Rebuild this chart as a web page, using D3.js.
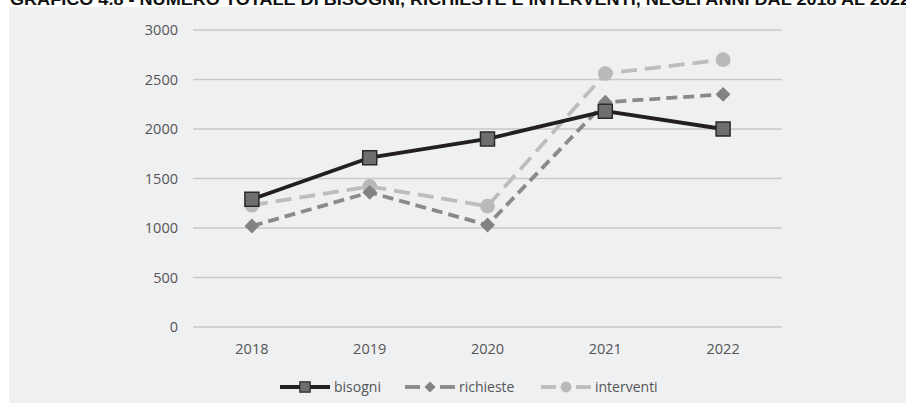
<!DOCTYPE html>
<html><head><meta charset="utf-8">
<script src="https://cdn.jsdelivr.net/npm/d3@7/dist/d3.min.js"></script>
<style>html,body{margin:0;padding:0;background:#fff;}svg{display:block;}</style>
</head><body>
<script>
const title = "GRAFICO 4.8 - NUMERO TOTALE DI BISOGNI, RICHIESTE E INTERVENTI, NEGLI ANNI DAL 2018 AL 2022";
const years = ["2018","2019","2020","2021","2022"];
const bisogni = [1290, 1710, 1900, 2180, 2000];
const richieste = [1020, 1360, 1030, 2270, 2350];
const interventi = [1230, 1420, 1220, 2560, 2700];
const yTicks = [0, 500, 1000, 1500, 2000, 2500, 3000];
const seriesNames = ["bisogni", "richieste", "interventi"];

const W = 906, H = 403;
const svg = d3.select("body").append("svg").attr("width", W).attr("height", H);
svg.append("rect").attr("x", 9).attr("y", 7).attr("width", W - 9).attr("height", H - 7).attr("fill", "#eff0f2");
svg.append("text").attr("x", 10).attr("y", 5).text(title)
  .attr("font-family", "Liberation Sans Narrow, Liberation Sans, sans-serif").attr("font-weight", "bold")
  .attr("font-size", 17).attr("fill", "#111").attr("textLength", 900).attr("lengthAdjust", "spacingAndGlyphs");

const x = d3.scaleBand().domain(years).range([193, 782]);
const y = d3.scaleLinear().domain([0, 3000]).range([327, 30]);
const font = "Open Sans, sans-serif";

// grid
svg.append("g").selectAll("line").data(yTicks).join("line")
  .attr("x1", 193).attr("x2", 782).attr("y1", d => y(d)).attr("y2", d => y(d))
  .attr("stroke", "#c9c9c9").attr("stroke-width", 1.5);

const yAxis = svg.append("g").attr("transform", "translate(193,0)")
  .call(d3.axisLeft(y).tickValues(yTicks).tickFormat(d3.format("d")).tickSize(0).tickPadding(15));
yAxis.select(".domain").remove();
yAxis.selectAll("text").attr("font-family", font).attr("font-size", 14.5).attr("fill", "#555");

const xAxis = svg.append("g").attr("transform", "translate(0,327)")
  .call(d3.axisBottom(x).tickSize(0).tickPadding(17));
xAxis.select(".domain").remove();
xAxis.selectAll("text").attr("font-family", font).attr("font-size", 14.5).attr("fill", "#555");

const styles = {
  bisogni: {stroke: "#231f20", dash: null, width: 3.8, sym: d3.symbolSquare, size: 196, rot: 0, fill: "#6e6e6e", mstroke: "#2a2a2a"},
  richieste: {stroke: "#8a8a8a", dash: "11,6", width: 3.8, sym: d3.symbolSquare, size: 110, rot: 45, fill: "#828282", mstroke: "none"},
  interventi: {stroke: "#bdbdbd", dash: "16,8", width: 3.8, sym: d3.symbolCircle, size: 170, rot: 0, fill: "#b9b9b9", mstroke: "none"}
};
const dataMap = {bisogni, richieste, interventi};
const cx = d => x(d) + x.bandwidth() / 2;
const line = d3.line().x(d => cx(d.year)).y(d => y(d.v));

["interventi", "richieste", "bisogni"].forEach(name => {
  const s = styles[name];
  const pts = years.map((yr, i) => ({year: yr, v: dataMap[name][i]}));
  svg.append("path").datum(pts).attr("d", line).attr("fill", "none")
    .attr("stroke", s.stroke).attr("stroke-width", s.width).attr("stroke-dasharray", s.dash)
    .attr("stroke-linejoin", "round");
  svg.append("g").selectAll("path").data(pts).join("path")
    .attr("d", d3.symbol().type(s.sym).size(s.size))
    .attr("transform", d => `translate(${cx(d.year)},${y(d.v)}) rotate(${s.rot})`)
    .attr("fill", s.fill).attr("stroke", s.mstroke).attr("stroke-width", 1.5);
});

// legend
const legX = [280, 405, 541];
const legY = 387;
seriesNames.forEach((name, i) => {
  const s = styles[name];
  const g = svg.append("g").attr("transform", `translate(${legX[i]},${legY})`);
  if (name === "bisogni") {
    g.append("line").attr("x1", 0).attr("x2", 50).attr("stroke", s.stroke).attr("stroke-width", s.width);
  } else {
    g.append("line").attr("x1", 0).attr("x2", 15).attr("stroke", s.stroke).attr("stroke-width", s.width);
    g.append("line").attr("x1", 35).attr("x2", 50).attr("stroke", s.stroke).attr("stroke-width", s.width);
  }
  g.append("path").attr("d", d3.symbol().type(s.sym).size(s.size * 0.55)).attr("transform", `translate(25,0) rotate(${s.rot})`)
    .attr("fill", s.fill).attr("stroke", s.mstroke).attr("stroke-width", 1.2);
  g.append("text").attr("x", 54).attr("y", 5).text(name)
    .attr("font-family", font).attr("font-size", 14).attr("fill", "#555");
});
</script>
</body></html>
